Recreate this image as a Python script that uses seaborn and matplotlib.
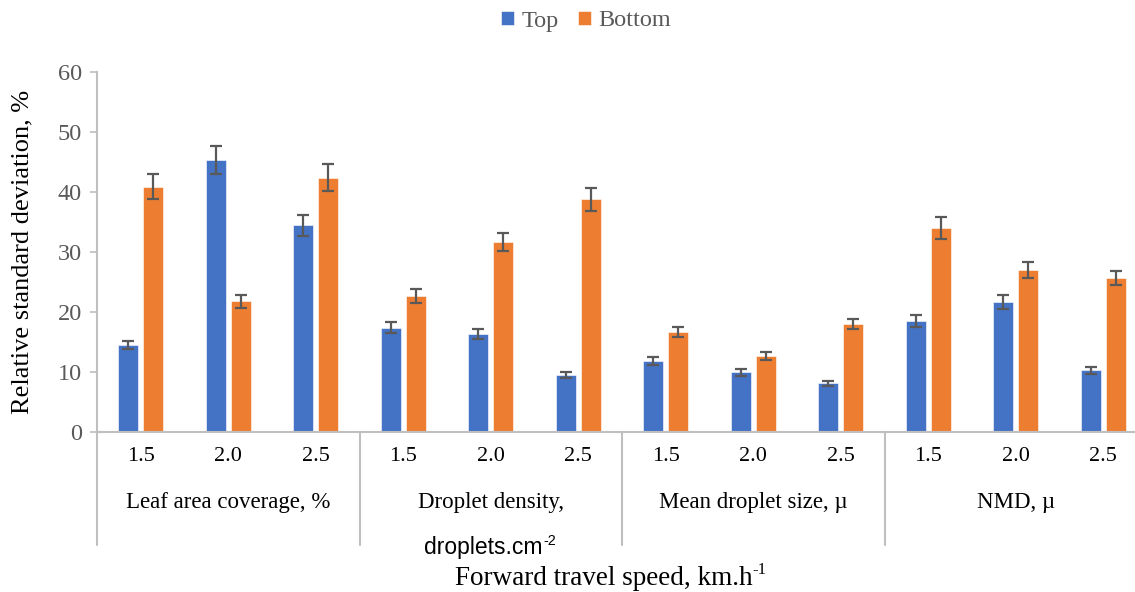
import matplotlib
matplotlib.use("Agg")
import matplotlib.pyplot as plt
import matplotlib.transforms as mtransforms
import seaborn as sns
import pandas as pd

# Parameters (groups) and forward speeds
groups = ["Leaf area coverage, %", "Droplet density,", "Mean droplet size, µ", "NMD, µ"]
speeds = ["1.5", "2.0", "2.5"]
positions = ["Top", "Bottom"]

# Relative standard deviation (%) per group x speed
top_values = [14.5, 45.3, 34.5,
              17.4, 16.3, 9.45,
              11.8, 9.95, 8.1,
              18.5, 21.7, 10.3]
bottom_values = [40.9, 21.8, 42.4,
                 22.7, 31.6, 38.8,
                 16.7, 12.7, 18.0,
                 34.0, 27.0, 25.7]
# Error bar half-lengths
top_err = [0.7, 2.3, 1.75,
           0.9, 0.85, 0.5,
           0.65, 0.6, 0.45,
           0.95, 1.15, 0.55]
bottom_err = [2.05, 1.1, 2.2,
              1.15, 1.5, 1.9,
              0.8, 0.7, 0.9,
              1.8, 1.4, 1.2]

keys = [f"{g}|{s}" for g in groups for s in speeds]
df = pd.DataFrame({
    "key": keys * 2,
    "position": ["Top"] * 12 + ["Bottom"] * 12,
    "value": top_values + bottom_values,
    "err": top_err + bottom_err,
})

sns.set_theme(style="white")
plt.rcParams["font.family"] = ["Liberation Serif", "DejaVu Serif"]

W, H = 1135, 592
fig = plt.figure(figsize=(W / 100, H / 100), dpi=100)
ax = fig.add_axes([97 / W, 1 - 432 / H, 1050 / W, 360 / H])

palette = {"Top": "#4472C4", "Bottom": "#ED7D31"}
sns.barplot(data=df, x="key", y="value", hue="position", order=keys,
            hue_order=positions, palette=palette, width=0.57, gap=0.2,
            errorbar=None, saturation=1, edgecolor="white", linewidth=0.4,
            legend=True, ax=ax)

# error bars drawn at each bar's centre
for cont, pos in zip(ax.containers, positions):
    sub = df[df["position"] == pos].set_index("key").loc[keys]
    xs = [p.get_x() + p.get_width() / 2 for p in cont.patches]
    hs = [p.get_height() for p in cont.patches]
    ax.errorbar(xs, hs, yerr=sub["err"].values, fmt="none", ecolor="#595959",
                elinewidth=1.6, capsize=4.5, capthick=1.6, zorder=5)

ax.set_xlim(-0.5, 11.5)
ax.set_ylim(0, 60)
ax.set_yticks(range(0, 61, 10))
ax.tick_params(axis="y", labelsize=17.5, labelcolor="#595959", length=5,
               color="#BFBFBF", width=1.2, direction="out", pad=6, left=True)
ax.set_xticks(range(12))
ax.set_xticklabels(speeds * 4, fontsize=16, color="black")
ax.tick_params(axis="x", length=0, pad=11)

for side in ["top", "right"]:
    ax.spines[side].set_visible(False)
for side in ["left", "bottom"]:
    ax.spines[side].set_color("#BFBFBF")
    ax.spines[side].set_linewidth(1.5)

# group separators below the axis
trans = mtransforms.blended_transform_factory(ax.transData, ax.transAxes)
for xb in [-0.5, 2.5, 5.5, 8.5]:
    ax.plot([xb, xb], [0, -0.314], transform=trans, color="#BFBFBF",
            lw=1.5, clip_on=False)

for i, g in enumerate(groups):
    ax.text(3 * i + 1, -0.197, g, transform=trans, ha="center", va="center",
            fontsize=16.5, color="black")

ax.set_xlabel("")
ax.set_ylabel("")
fig.text(22 / W, 1 - 252 / H, "Relative standard deviation, %", rotation=90,
         ha="center", va="center", fontsize=19, color="black")


def with_superscript(x, y, base, sup, size, family, **kw):
    """Place base text centred at (x, y) with a small raised suffix."""
    t = fig.text(x, y, base, ha="left", va="baseline", fontsize=size,
                 family=family, **kw)
    s = fig.text(x, y, sup, ha="left", va="baseline", fontsize=size * 0.62,
                 family=family, **kw)
    fig.canvas.draw()
    r = fig.canvas.get_renderer()
    bw = t.get_window_extent(r).width
    sw = s.get_window_extent(r).width
    x0 = x - (bw + sw) / W / 2
    rise = size * 0.40 * fig.dpi / 72 / H
    t.set_position((x0, y))
    s.set_position((x0 + bw / W, y + rise))


with_superscript(490 / W, 1 - 554 / H, "droplets.cm", "-2", 16.5,
                 ["Liberation Sans", "DejaVu Sans"], color="black")
with_superscript(611 / W, 1 - 585 / H, "Forward travel speed, km.h", "-1", 19.5,
                 ["Liberation Serif", "DejaVu Serif"], color="black")

handles, labels = ax.get_legend_handles_labels()
ax.legend_.remove()
leg = fig.legend(handles, labels, loc="center", bbox_to_anchor=(586 / W, 1 - 21 / H),
                 ncol=2, frameon=False, fontsize=17.5, handlelength=0.55,
                 handleheight=0.55, handletextpad=0.3, columnspacing=0.8)
for t in leg.get_texts():
    t.set_color("#595959")

fig.savefig("out.png", dpi=100)
